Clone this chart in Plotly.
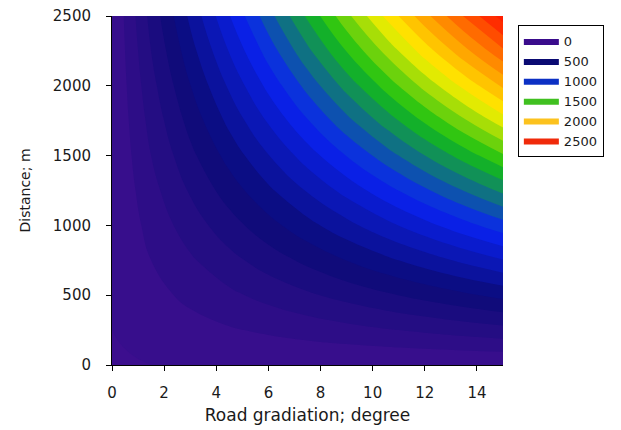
import plotly.graph_objects as go

# Grid positions (degree, m) and values
gradient_deg = [0, 1.5, 3, 4.5, 6, 7.5, 9, 10.5, 12, 13.5, 15]
distance_m = [0, 250, 500, 750, 1000, 1250, 1500, 1750, 2000, 2250, 2500]
z_values = [
    [0, 0, 0, 0, 0, 0, 0, 0, 0, 0, 0],
    [0, 33, 62, 90, 116, 142, 167, 192, 216, 241, 265],
    [0, 67, 124, 179, 232, 284, 334, 384, 433, 481, 529],
    [0, 100, 186, 269, 348, 425, 501, 576, 649, 722, 794],
    [0, 133, 249, 358, 464, 567, 668, 768, 866, 963, 1058],
    [0, 166, 311, 448, 580, 709, 835, 960, 1082, 1203, 1323],
    [0, 200, 373, 537, 696, 851, 1003, 1151, 1299, 1444, 1588],
    [0, 233, 435, 627, 812, 993, 1170, 1343, 1515, 1684, 1852],
    [0, 266, 497, 716, 928, 1134, 1337, 1535, 1732, 1925, 2117],
    [0, 300, 560, 806, 1044, 1276, 1504, 1727, 1948, 2166, 2381],
    [0, 333, 622, 895, 1160, 1418, 1671, 1919, 2165, 2406, 2646],
]

legend_levels = [0, 500, 1000, 1500, 2000, 2500]
legend_colors = ["#3a0c8c", "#0a0a72", "#0c30c4", "#40c020", "#fcc21e", "#f02a0a"]

scale_levels = [0, 500, 1000, 1500, 1900, 2250, 2600]
scale_colors = ["#3c0e8e", "#0b0b78", "#0a22f2", "#14c014", "#fff000", "#ff8a00", "#ff1e00"]

x_ticks = [0, 2, 4, 6, 8, 10, 12, 14]
y_ticks = [0, 500, 1000, 1500, 2000, 2500]

zmax = scale_levels[-1]
colorscale = [[lv / zmax, c] for lv, c in zip(scale_levels, scale_colors)]

fig = go.Figure()
fig.add_trace(go.Contour(
    x=gradient_deg, y=distance_m, z=z_values,
    colorscale=colorscale, zmin=0, zmax=zmax, zauto=False,
    autocontour=False,
    contours=dict(start=0, end=2700, size=100, coloring="fill", showlines=False),
    line=dict(width=0, smoothing=1.3),
    showscale=False, showlegend=False, hoverinfo="skip",
))

for lv, c in zip(legend_levels, legend_colors):
    fig.add_trace(go.Scatter(
        x=[None], y=[None], mode="lines", fill="toself",
        fillcolor=c, line=dict(width=0, color=c),
        name=str(lv), showlegend=True,
    ))

font_family = "DejaVu Sans, Arial, sans-serif"
fig.update_layout(
    width=613, height=422,
    margin=dict(l=104, r=118, t=8, b=65, autoexpand=False),
    paper_bgcolor="white", plot_bgcolor="white",
    font=dict(family=font_family, color="#1a1a1a"),
    xaxis=dict(
        range=[0, 15], tickvals=x_ticks, ticks="outside", ticklen=5,
        tickcolor="black", showline=True, linecolor="black", linewidth=1,
        showgrid=False, zeroline=False, mirror=False, automargin=False,
        tickfont=dict(size=15), ticklabelstandoff=9, ticklabeloverflow="allow",
        title=dict(text="Road gradiation; degree", font=dict(size=17), standoff=8),
    ),
    yaxis=dict(
        range=[0, 2500], tickvals=y_ticks, ticks="outside", ticklen=5,
        tickcolor="black", showline=True, linecolor="black", linewidth=1,
        showgrid=False, zeroline=False, mirror=False, automargin=False,
        tickfont=dict(size=15), ticklabelstandoff=12, ticklabeloverflow="allow",
        title=dict(text="Distance; m", font=dict(size=14), standoff=18),
    ),
    legend=dict(
        x=1.038, y=0.974, xanchor="left", yanchor="top",
        bgcolor="white", bordercolor="black", borderwidth=1,
        font=dict(size=13), itemwidth=35, tracegroupgap=0,
    ),
)

fig.write_html("out.html")
